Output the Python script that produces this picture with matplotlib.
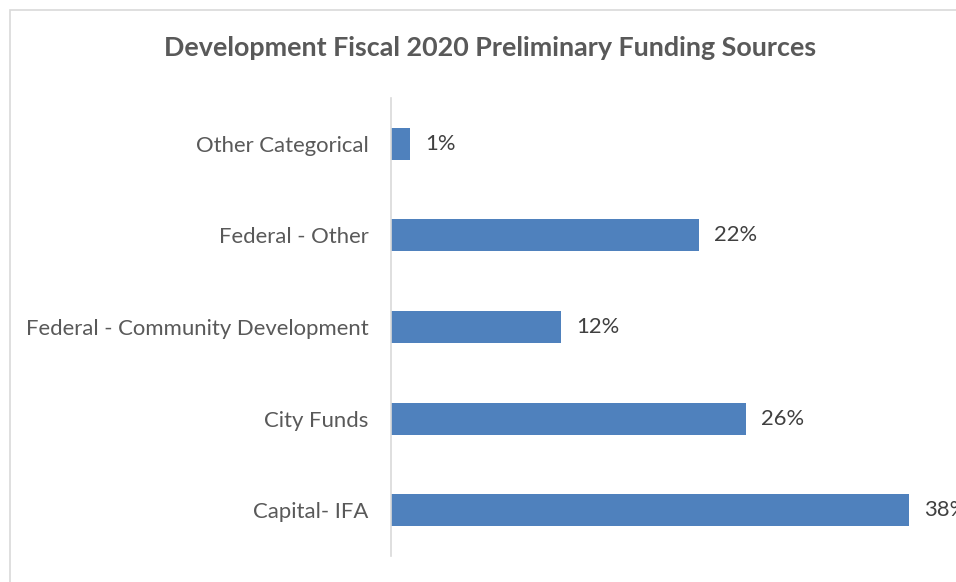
import numpy as np
import matplotlib.pyplot as plt
from matplotlib.patches import Rectangle

categories = ['Capital- IFA', 'City Funds', 'Federal - Community Development',
              'Federal - Other', 'Other Categorical']
shares = [38.0, 26.05, 12.47, 22.6, 1.39]
share_labels = ['38%', '26%', '12%', '22%', '1%']

W, H = 956, 582
fig = plt.figure(figsize=(W / 100, H / 100), dpi=100)
plt.rcParams['font.family'] = ['Lato', 'DejaVu Sans']

# chart area frame (only top/left edges visible in the crop)
fig.patches.append(Rectangle((10 / W, -0.1), 1.2, (H - 10) / H + 0.1,
                             transform=fig.transFigure, fill=False,
                             edgecolor='#D9D9D9', linewidth=1.2))

left, right, top, bottom = 391, 956, 98, 556
ax = fig.add_axes([left / W, 1 - bottom / H, (right - left) / W, (bottom - top) / H])

y = np.arange(len(categories))
ax.barh(y, shares, height=0.35, color='#4F81BD')
ax.set_ylim(-0.5, len(categories) - 0.5)
ax.set_xlim(0, (right - left) / 13.63)

for yi, v, lab in zip(y, shares, share_labels):
    ax.annotate(lab, (v, yi), xytext=(11, 0), textcoords='offset points',
                va='center', ha='left', fontsize=15.8, color='#404040',
                annotation_clip=False)

ax.set_yticks(y)
ax.set_yticklabels(categories, fontsize=15.9, color='#595959')
ax.tick_params(axis='y', length=0, pad=16)
ax.set_xticks([])
for s in ['top', 'right', 'bottom']:
    ax.spines[s].set_visible(False)
ax.spines['left'].set_color('#D9D9D9')
ax.spines['left'].set_linewidth(1.2)

fig.text(490 / W, 1 - 48 / H, 'Development Fiscal 2020 Preliminary Funding Sources',
         ha='center', va='center', fontsize=19.4, fontweight='bold', color='#595959')

fig.savefig('out.png', dpi=100)
